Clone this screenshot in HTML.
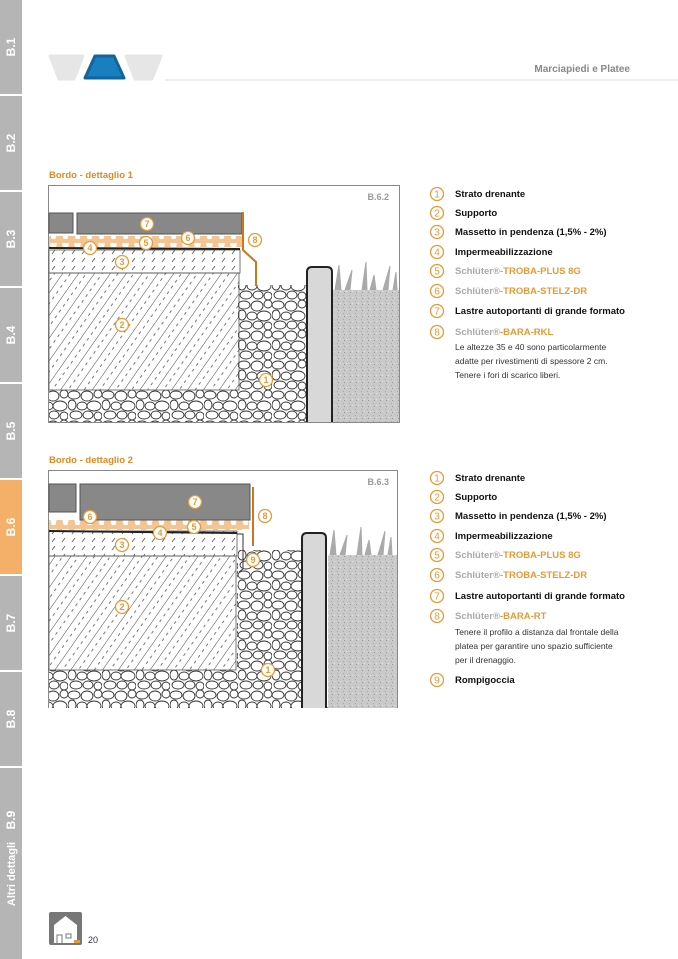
<!DOCTYPE html>
<html><head><meta charset="utf-8"><style>
html,body{margin:0;padding:0;background:#fff;}
body{width:678px;height:959px;position:relative;overflow:hidden;font-family:"Liberation Sans",Arial,sans-serif;}
</style></head><body>
<svg width="678" height="959" viewBox="0 0 678 959" xmlns="http://www.w3.org/2000/svg" style="position:absolute;left:0;top:0">
<defs>
<pattern id="hatch" width="13" height="14" patternUnits="userSpaceOnUse" patternTransform="rotate(35)">
<line x1="0" y1="0" x2="0" y2="14" stroke="#333" stroke-width="0.9"/>
<line x1="6.5" y1="2" x2="6.5" y2="5" stroke="#555" stroke-width="0.8"/>
<line x1="6.5" y1="9" x2="6.5" y2="12" stroke="#555" stroke-width="0.8"/>
</pattern>
<pattern id="screed" width="10" height="8" patternUnits="userSpaceOnUse">
<line x1="2" y1="6" x2="5" y2="2" stroke="#555" stroke-width="0.8"/>
</pattern>
<pattern id="gravel" width="34" height="30" patternUnits="userSpaceOnUse">
<rect width="34" height="30" fill="#fff"/>
<g fill="#fff" stroke="#333" stroke-width="0.9">
<ellipse cx="6" cy="5" rx="6" ry="4"/><ellipse cx="19" cy="6" rx="6" ry="5"/><ellipse cx="30" cy="4" rx="4" ry="4"/>
<ellipse cx="4" cy="15" rx="4" ry="5"/><ellipse cx="14" cy="16" rx="5" ry="4"/><ellipse cx="26" cy="16" rx="7" ry="5"/>
<ellipse cx="8" cy="25" rx="6" ry="4"/><ellipse cx="20" cy="25" rx="5" ry="4"/><ellipse cx="30" cy="26" rx="4" ry="4"/>
</g></pattern>
<pattern id="soil" width="6" height="6" patternUnits="userSpaceOnUse">
<rect width="6" height="6" fill="#c9c9c9"/><rect x="1" y="1" width="1" height="1" fill="#aaa"/><rect x="4" y="3" width="1" height="1" fill="#e3e3e3"/><rect x="2" y="4" width="1" height="1" fill="#999"/>
</pattern>
<pattern id="drain" width="12" height="11" patternUnits="userSpaceOnUse">
<rect width="12" height="11" fill="#f5c493"/><path d="M2 1 H9 L7.5 8 H3.5 Z" fill="#fff"/>
</pattern>
<g id="c"><circle r="6.5" fill="#fff" stroke="#e59a35" stroke-width="1.3"/></g>
</defs>

<g fill="#b5b5b5">
<rect x="0" y="0" width="22" height="94"/><rect x="0" y="96" width="22" height="94"/>
<rect x="0" y="192" width="22" height="94"/><rect x="0" y="288" width="22" height="94"/>
<rect x="0" y="384" width="22" height="94"/><rect x="0" y="576" width="22" height="94"/>
<rect x="0" y="672" width="22" height="94"/><rect x="0" y="768" width="22" height="191"/>
</g>
<rect x="0" y="480" width="22" height="94" fill="#f4b069"/>
<g fill="#fff" font-weight="bold" font-size="12" text-anchor="middle">
<text transform="translate(15,47) rotate(-90)">B.1</text>
<text transform="translate(15,143) rotate(-90)">B.2</text>
<text transform="translate(15,239) rotate(-90)">B.3</text>
<text transform="translate(15,335) rotate(-90)">B.4</text>
<text transform="translate(15,431) rotate(-90)">B.5</text>
<text transform="translate(15,527) rotate(-90)">B.6</text>
<text transform="translate(15,623) rotate(-90)">B.7</text>
<text transform="translate(15,719) rotate(-90)">B.8</text>
<text transform="translate(15,820) rotate(-90)">B.9</text>
<text transform="translate(15,874) rotate(-90)" font-size="11">Altri dettagli</text>
</g>

<path d="M50 56 H83 L74 79 H59 Z" fill="#e6e6e6" stroke="#e6e6e6" stroke-width="3" stroke-linejoin="round"/>
<path d="M95 56 H114 L124 78 H85 Z" fill="#1a7fbf" stroke="#12659c" stroke-width="3" stroke-linejoin="round"/>
<path d="M126 56 H161 L152 79 H135 Z" fill="#e6e6e6" stroke="#e6e6e6" stroke-width="3" stroke-linejoin="round"/>
<line x1="165" y1="80" x2="678" y2="80" stroke="#e8e8e8" stroke-width="1.5"/>
<text x="630" y="72" font-size="10" font-weight="bold" fill="#888" text-anchor="end">Marciapiedi e Platee</text>

<text x="49" y="178" font-size="9.5" font-weight="bold" fill="#e08a20">Bordo - dettaglio 1</text>
<text x="49" y="463" font-size="9.5" font-weight="bold" fill="#e08a20">Bordo - dettaglio 2</text>

<rect x="48.5" y="185.5" width="351" height="237" fill="#fff" stroke="#888"/>
<text x="389" y="200" font-size="9" font-weight="bold" fill="#999" text-anchor="end">B.6.2</text>
<rect x="49" y="390" width="257" height="32" fill="url(#gravel)"/>
<rect x="238" y="285" width="68" height="137" fill="url(#gravel)"/>
<rect x="49" y="273" width="190" height="117" fill="url(#hatch)" stroke="#555" stroke-width="0.8"/>
<rect x="49" y="250" width="191" height="23" fill="url(#screed)" stroke="#555" stroke-width="0.8"/>
<rect x="49" y="236" width="193" height="11" fill="url(#drain)"/>
<path d="M49 248 L240 249" stroke="#222" stroke-width="2"/>
<rect x="49" y="213" width="24" height="20" fill="#888" stroke="#555"/>
<rect x="77" y="213" width="165" height="21" fill="#888" stroke="#555"/>
<path d="M243 212 V250 L256 262 V286" fill="none" stroke="#c8781e" stroke-width="2"/>
<rect x="333" y="290" width="66" height="132" fill="url(#soil)"/>
<path d="M335 290 L339 265 L341 290 M345 290 L352 270 L350 290 M362 290 L366 262 L367 290 M370 290 L374 275 L376 290 M383 290 L390 266 L388 290 M393 290 L396 272 L397 290" fill="#aaa" stroke="#aaa"/>
<path d="M307 422 V272 Q307 267 312 267 H327 Q332 267 332 272 V422" fill="#d8d8d8" stroke="#222" stroke-width="2"/>
<g font-size="9" fill="#e59a35" text-anchor="middle" font-weight="bold">
<use href="#c" x="266" y="380"/><text x="266" y="383">1</text>
<use href="#c" x="122" y="325"/><text x="122" y="328">2</text>
<use href="#c" x="122" y="262"/><text x="122" y="265">3</text>
<use href="#c" x="90" y="248"/><text x="90" y="251">4</text>
<use href="#c" x="146" y="243"/><text x="146" y="246">5</text>
<use href="#c" x="188" y="238"/><text x="188" y="241">6</text>
<use href="#c" x="147" y="224"/><text x="147" y="227">7</text>
<use href="#c" x="255" y="240"/><text x="255" y="243">8</text>
</g>

<rect x="48.5" y="470.5" width="349" height="237" fill="#fff" stroke="#888"/>
<text x="389" y="485" font-size="9" font-weight="bold" fill="#999" text-anchor="end">B.6.3</text>
<rect x="49" y="670" width="253" height="38" fill="url(#gravel)"/>
<rect x="237" y="550" width="65" height="158" fill="url(#gravel)"/>
<rect x="49" y="556" width="187" height="114" fill="url(#hatch)" stroke="#555" stroke-width="0.8"/>
<rect x="49" y="531" width="188" height="25" fill="url(#screed)" stroke="#555" stroke-width="0.8"/>
<path d="M237 534 L243 534 V569 L239 572" fill="none" stroke="#333" stroke-width="1"/>
<rect x="49" y="520" width="200" height="10" fill="url(#drain)"/>
<path d="M49 531 L237 533" stroke="#222" stroke-width="2"/>
<rect x="49" y="484" width="27" height="28" fill="#888" stroke="#555"/>
<rect x="80" y="484" width="170" height="36" fill="#888" stroke="#555"/>
<path d="M253 487 V546" stroke="#c8781e" stroke-width="2"/>
<rect x="328" y="555" width="69" height="153" fill="url(#soil)"/>
<path d="M330 555 L334 530 L336 555 M340 555 L347 535 L345 555 M357 555 L361 527 L362 555 M365 555 L369 540 L371 555 M378 555 L385 531 L383 555 M388 555 L391 537 L392 555" fill="#aaa" stroke="#aaa"/>
<path d="M302 708 V538 Q302 533 307 533 H321 Q326 533 326 538 V708" fill="#d8d8d8" stroke="#222" stroke-width="2"/>
<g font-size="9" fill="#e59a35" text-anchor="middle" font-weight="bold">
<use href="#c" x="268" y="670"/><text x="268" y="673">1</text>
<use href="#c" x="122" y="607"/><text x="122" y="610">2</text>
<use href="#c" x="122" y="545"/><text x="122" y="548">3</text>
<use href="#c" x="160" y="533"/><text x="160" y="536">4</text>
<use href="#c" x="194" y="527"/><text x="194" y="530">5</text>
<use href="#c" x="90" y="517"/><text x="90" y="520">6</text>
<use href="#c" x="195" y="502"/><text x="195" y="505">7</text>
<use href="#c" x="265" y="516"/><text x="265" y="519">8</text>
<use href="#c" x="253" y="560"/><text x="253" y="563">9</text>
</g>

<g font-size="9.5" font-weight="bold" fill="#111">
<text x="455" y="197">Strato drenante</text>
<text x="455" y="216">Supporto</text>
<text x="455" y="235">Massetto in pendenza (1,5% - 2%)</text>
<text x="455" y="255">Impermeabilizzazione</text>
<text x="455" y="274"><tspan fill="#aaa">Schlüter®</tspan><tspan fill="#e59a35">-TROBA-PLUS 8G</tspan></text>
<text x="455" y="294"><tspan fill="#aaa">Schlüter®</tspan><tspan fill="#e59a35">-TROBA-STELZ-DR</tspan></text>
<text x="455" y="314">Lastre autoportanti di grande formato</text>
<text x="455" y="335"><tspan fill="#aaa">Schlüter®</tspan><tspan fill="#e59a35">-BARA-RKL</tspan></text>
</g>
<g font-size="8.5" fill="#333">
<text x="455" y="350">Le altezze 35 e 40 sono particolarmente</text>
<text x="455" y="364">adatte per rivestimenti di spessore 2 cm.</text>
<text x="455" y="378">Tenere i fori di scarico liberi.</text>
</g>
<g font-size="10" fill="#e59a35" text-anchor="middle">
<use href="#c" x="437" y="194"/><text x="437" y="197.5">1</text>
<use href="#c" x="437" y="213"/><text x="437" y="216.5">2</text>
<use href="#c" x="437" y="232"/><text x="437" y="235.5">3</text>
<use href="#c" x="437" y="252"/><text x="437" y="255.5">4</text>
<use href="#c" x="437" y="271"/><text x="437" y="274.5">5</text>
<use href="#c" x="437" y="291"/><text x="437" y="294.5">6</text>
<use href="#c" x="437" y="311"/><text x="437" y="314.5">7</text>
<use href="#c" x="437" y="332"/><text x="437" y="335.5">8</text>
</g>

<g font-size="9.5" font-weight="bold" fill="#111">
<text x="455" y="481">Strato drenante</text>
<text x="455" y="500">Supporto</text>
<text x="455" y="519">Massetto in pendenza (1,5% - 2%)</text>
<text x="455" y="539">Impermeabilizzazione</text>
<text x="455" y="558"><tspan fill="#aaa">Schlüter®</tspan><tspan fill="#e59a35">-TROBA-PLUS 8G</tspan></text>
<text x="455" y="578"><tspan fill="#aaa">Schlüter®</tspan><tspan fill="#e59a35">-TROBA-STELZ-DR</tspan></text>
<text x="455" y="599">Lastre autoportanti di grande formato</text>
<text x="455" y="619"><tspan fill="#aaa">Schlüter®</tspan><tspan fill="#e59a35">-BARA-RT</tspan></text>
<text x="455" y="683">Rompigoccia</text>
</g>
<g font-size="8.5" fill="#333">
<text x="455" y="635">Tenere il profilo a distanza dal frontale della</text>
<text x="455" y="649">platea per garantire uno spazio sufficiente</text>
<text x="455" y="663">per il drenaggio.</text>
</g>
<g font-size="10" fill="#e59a35" text-anchor="middle">
<use href="#c" x="437" y="478"/><text x="437" y="481.5">1</text>
<use href="#c" x="437" y="497"/><text x="437" y="500.5">2</text>
<use href="#c" x="437" y="516"/><text x="437" y="519.5">3</text>
<use href="#c" x="437" y="536"/><text x="437" y="539.5">4</text>
<use href="#c" x="437" y="555"/><text x="437" y="558.5">5</text>
<use href="#c" x="437" y="575"/><text x="437" y="578.5">6</text>
<use href="#c" x="437" y="596"/><text x="437" y="599.5">7</text>
<use href="#c" x="437" y="616"/><text x="437" y="619.5">8</text>
<use href="#c" x="437" y="680"/><text x="437" y="683.5">9</text>
</g>

<rect x="49" y="912" width="33" height="33" rx="2" fill="#777"/>
<path d="M54 925 L65.5 916 L77 925 V943 H54 Z" fill="#fff"/>
<path d="M57 943 V935 H62 V943 M66 934 H71 V938 H66 Z" fill="none" stroke="#777" stroke-width="1"/>
<rect x="74" y="940" width="6" height="3" fill="#e59a35"/>
<text x="88" y="943" font-size="9" fill="#333">20</text>
</svg>
</body></html>
